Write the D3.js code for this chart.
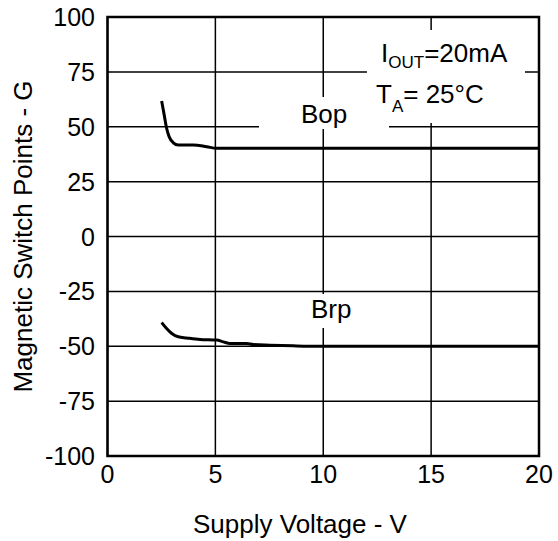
<!DOCTYPE html>
<html><head><meta charset="utf-8">
<script src="https://cdn.jsdelivr.net/npm/d3@7"></script>
<style>body{margin:0;background:#fff}svg{display:block}text{font-family:"Liberation Sans",Arial,sans-serif;fill:#000}</style>
</head><body><svg id="c" width="558" height="541"></svg>
<script>
const bopV = [2.51, 2.63, 2.74, 2.86, 3.05, 3.28, 3.98, 4.6, 5.06, 20];
const bopG = [61.7, 55.3, 49.3, 45.4, 42.7, 41.7, 41.7, 40.9, 40.2, 40.2];
const brpV = [2.51, 2.74, 2.98, 3.28, 3.67, 4.29, 5.06, 5.37, 5.68, 6.45, 6.76, 7.53, 8.61, 9.85, 20];
const brpG = [-39.2, -41.9, -44.2, -45.7, -46.2, -46.9, -47.2, -48.0, -48.7, -48.7, -49.2, -49.5, -49.8, -50, -50];
const xTicks = [0, 5, 10, 15, 20];
const yTicks = [-100, -75, -50, -25, 0, 25, 50, 75, 100];

const svg = d3.select("#c");
const L = 107.5, R = 539, T = 17, B = 456;
const x = d3.scaleLinear().domain([0, 20]).range([L, R]);
const y = d3.scaleLinear().domain([-100, 100]).range([B, T]);

// grid
const g = svg.append("g");
g.selectAll("line.v").data(xTicks).join("line")
  .attr("x1", d => x(d)).attr("x2", d => x(d)).attr("y1", T).attr("y2", B)
  .attr("stroke", "#000").attr("stroke-width", 1.5);
g.selectAll("line.h").data(yTicks).join("line")
  .attr("x1", L).attr("x2", R).attr("y1", d => y(d)).attr("y2", d => y(d))
  .attr("stroke", "#000").attr("stroke-width", 1.5);

// white label backgrounds interrupting grid
const bg = svg.append("g").attr("fill", "#fff");
bg.append("rect").attr("x", 367).attr("y", 30).attr("width", 158).attr("height", 93);
bg.append("rect").attr("x", 259).attr("y", 97).attr("width", 130).attr("height", 32);
bg.append("rect").attr("x", 300).attr("y", 294).attr("width", 52).attr("height", 34);

// frame
svg.append("rect").attr("x", L).attr("y", T).attr("width", R - L).attr("height", B - T)
  .attr("fill", "none").attr("stroke", "#000").attr("stroke-width", 2.5);

// curves
const line = d3.line().x(d => x(d[0])).y(d => y(d[1])).curve(d3.curveMonotoneX);
svg.append("path").datum(d3.zip(bopV, bopG)).attr("d", line)
  .attr("fill", "none").attr("stroke", "#000").attr("stroke-width", 3);
svg.append("path").datum(d3.zip(brpV, brpG)).attr("d", line)
  .attr("fill", "none").attr("stroke", "#000").attr("stroke-width", 3);

// tick labels
svg.selectAll("text.xt").data(xTicks).join("text")
  .attr("x", d => x(d)).attr("y", 483).attr("text-anchor", "middle")
  .attr("font-size", 25).text(d => d);
svg.selectAll("text.yt").data(yTicks).join("text")
  .attr("x", 95).attr("y", d => y(d) + 9).attr("text-anchor", "end")
  .attr("font-size", 25).text(d => d);

// axis titles
svg.append("text").attr("x", 300).attr("y", 533).attr("text-anchor", "middle")
  .attr("font-size", 26).text("Supply Voltage - V");
svg.append("text").attr("transform", `translate(32,${(T + B) / 2}) rotate(-90)`)
  .attr("text-anchor", "middle").attr("font-size", 26).text("Magnetic Switch Points - G");

// series labels
svg.append("text").attr("x", 301).attr("y", 123).attr("font-size", 26).text("Bop");
svg.append("text").attr("x", 311).attr("y", 318).attr("font-size", 26).text("Brp");

// conditions
const t1 = svg.append("text").attr("x", 381).attr("y", 62).attr("font-size", 26);
t1.append("tspan").text("I");
t1.append("tspan").attr("font-size", 17).attr("dy", 6).text("OUT");
t1.append("tspan").attr("dy", -6).text("=20mA");
const t2 = svg.append("text").attr("x", 376).attr("y", 103).attr("font-size", 26);
t2.append("tspan").text("T");
t2.append("tspan").attr("font-size", 17).attr("dy", 9).text("A");
t2.append("tspan").attr("dy", -9).text("= 25°C");
</script></body></html>
